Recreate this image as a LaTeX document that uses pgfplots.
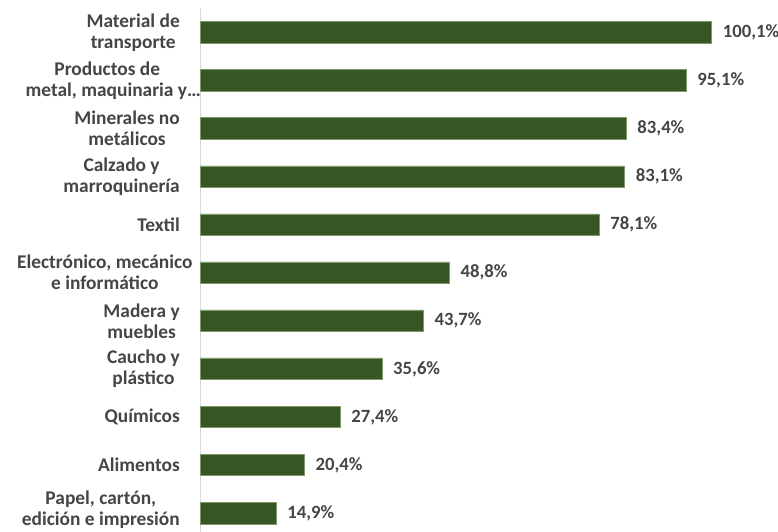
\documentclass[border=0pt]{standalone}
\usepackage{pgfplots}
\pgfplotsset{compat=1.18}
\usepackage{fontspec}
\setmainfont{Carlito}
\definecolor{barg}{HTML}{375623}
\definecolor{bare}{HTML}{7E9A68}
\definecolor{txt}{HTML}{454545}
\definecolor{axg}{HTML}{D9D9D9}
\begin{document}
\begin{tikzpicture}
\path[use as bounding box] (0,0) rectangle (778pt,532pt);
\begin{axis}[
  at={(200pt,0pt)}, anchor=south west,
  scale only axis,
  width=511pt, height=523.5pt,
  xbar, bar width=21.7pt,
  xmin=0, xmax=100,
  ymin=-0.5, ymax=10.396,
  y dir=reverse,
  clip=false,
  hide x axis,
  axis y line*=left,
  y axis line style={draw=axg, line width=0.8pt, -},
  ytick={0,...,10},
  major tick length=0pt,
  ytick style={draw=none},
  yticklabels={
    {Material de\\transporte},
    {Productos de\hspace*{12pt}\\\makebox[133pt][c]{metal, maquinaria y…}},
    {Minerales no\\metálicos},
    {Calzado y\\marroquinería},
    {Textil},
    {\makebox[150pt][c]{Electrónico, mecánico}\\e informático},
    {Madera y\\muebles},
    {Caucho y\\plástico},
    {Químicos},
    {Alimentos},
    {Papel, cartón,\\edición e impresión\rule[-9pt]{0pt}{9pt}}},
  yticklabel style={align=center, anchor=east, inner sep=0pt, xshift=-20pt,
    font=\fontsize{19.4}{21}\selectfont\bfseries, text=txt},
  nodes near coords={\pgfmathprintnumber[fixed,fixed zerofill,precision=1,use comma,assume math mode=true]{\pgfplotspointmeta}\%},
  nodes near coords style={anchor=west, inner sep=0pt, xshift=11pt,
    font=\fontsize{18.7}{20}\selectfont\bfseries, text=txt},
]
\addplot[fill=barg, draw=bare, line width=0.6pt] coordinates {
  (100.1,0) (95.1,1) (83.4,2) (83.1,3) (78.1,4) (48.8,5)
  (43.7,6) (35.6,7) (27.4,8) (20.4,9) (14.9,10)};
\end{axis}
\end{tikzpicture}
\end{document}
